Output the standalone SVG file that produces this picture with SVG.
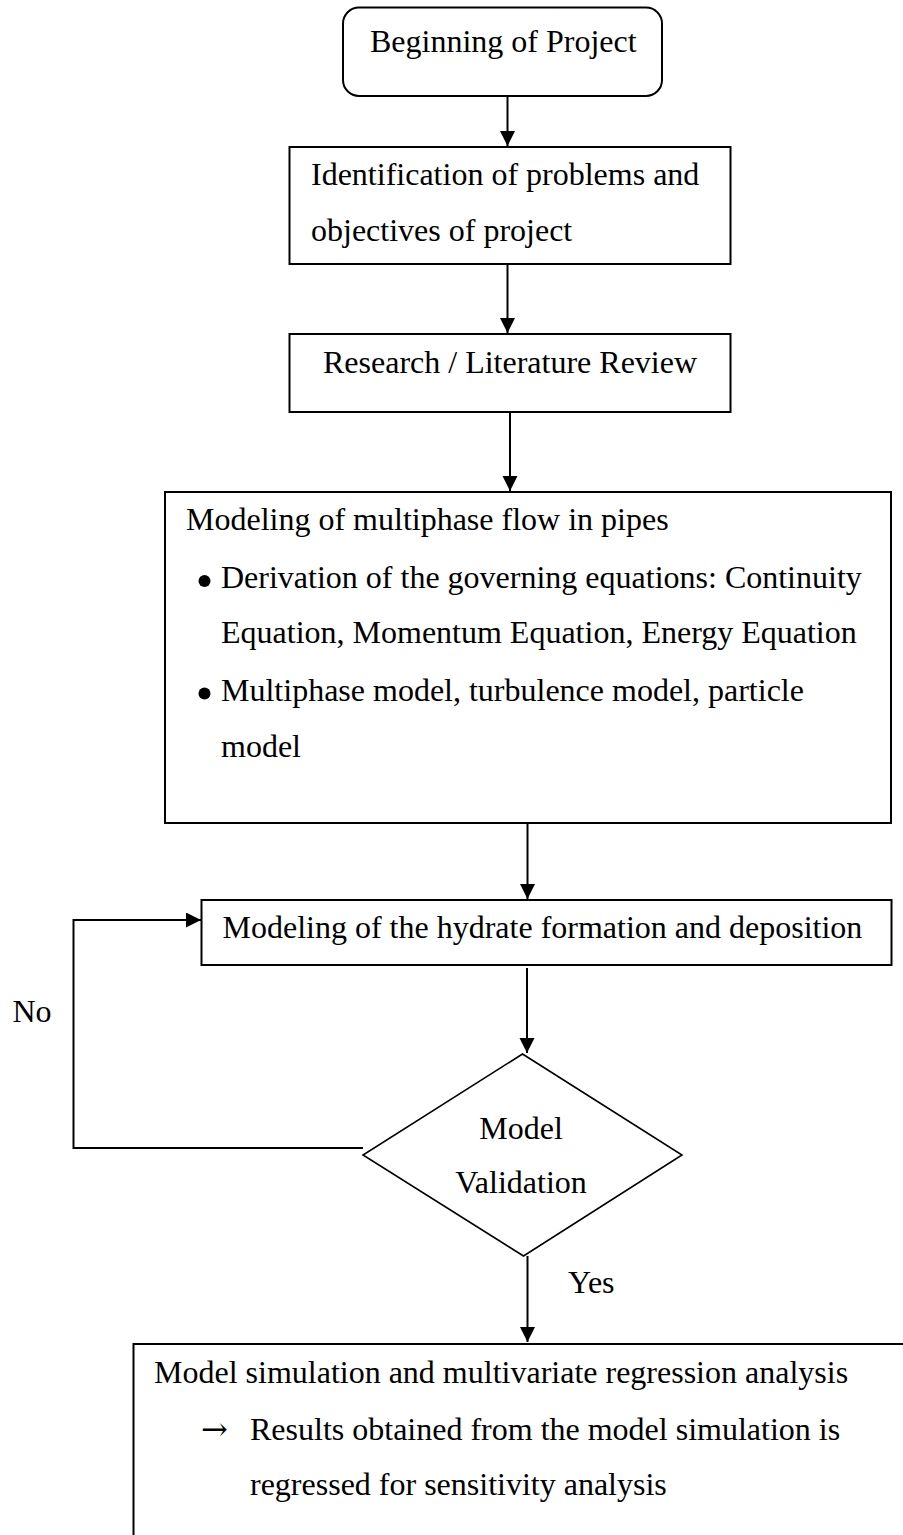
<svg xmlns="http://www.w3.org/2000/svg" width="903" height="1535" viewBox="0 0 903 1535">
<style>
.box{fill:#fff;stroke:#000;stroke-width:2}
.ln{fill:none;stroke:#000;stroke-width:2}
text{font-family:"Liberation Serif","Times New Roman",serif;font-size:32px;fill:#000}
.mid{text-anchor:middle}
</style>
<defs>
<marker id="ah" markerUnits="userSpaceOnUse" markerWidth="16" markerHeight="16" refX="15" refY="7.5" orient="auto">
<path d="M0,0 L15,7.5 L0,15 z" fill="#000"/>
</marker>
</defs>
<rect width="903" height="1535" fill="#fff"/>
<g id="connectors">
<line class="ln" x1="507.5" y1="96" x2="507.5" y2="146" marker-end="url(#ah)"/>
<line class="ln" x1="507.5" y1="264" x2="507.5" y2="333" marker-end="url(#ah)"/>
<line class="ln" x1="510" y1="412" x2="510" y2="491" marker-end="url(#ah)"/>
<line class="ln" x1="527.5" y1="823" x2="527.5" y2="899" marker-end="url(#ah)"/>
<line class="ln" x1="527" y1="968" x2="527" y2="1053" marker-end="url(#ah)"/>
<line class="ln" x1="527.5" y1="1256" x2="527.5" y2="1342" marker-end="url(#ah)"/>
<polyline class="ln" points="363,1148 73.5,1148 73.5,920 201,920" marker-end="url(#ah)"/>
<text x="12.5" y="1021.5">No</text>
<text x="568" y="1293">Yes</text>
</g>
<g id="start">
<rect class="box" x="343" y="7.5" width="319" height="88.5" rx="16"/>
<text x="370" y="52">Beginning of Project</text>
</g>
<g id="identify">
<rect class="box" x="289.5" y="147" width="441" height="117"/>
<text x="311" y="185">Identification of problems and</text>
<text x="311" y="241">objectives of project</text>
</g>
<g id="research">
<rect class="box" x="289.5" y="334" width="441" height="78"/>
<text x="323" y="373">Research / Literature Review</text>
</g>
<g id="multiphase">
<rect class="box" x="165" y="492" width="726" height="331"/>
<text x="186" y="530">Modeling of multiphase flow in pipes</text>
<circle cx="204.5" cy="581" r="6" fill="#000"/>
<text x="221" y="588">Derivation of the governing equations: Continuity</text>
<text x="221" y="643">Equation, Momentum Equation, Energy Equation</text>
<circle cx="204.5" cy="693.5" r="6" fill="#000"/>
<text x="221" y="701">Multiphase model, turbulence model, particle</text>
<text x="221" y="757">model</text>
</g>
<g id="hydrate">
<rect class="box" x="201.5" y="900" width="690" height="65"/>
<text x="222.5" y="938">Modeling of the hydrate formation and deposition</text>
</g>
<g id="validation">
<polygon points="522.5,1054 682,1155 523.5,1256 363,1155" fill="#fff" stroke="#000" stroke-width="1.6"/>
<text class="mid" x="521" y="1139">Model</text>
<text class="mid" x="521" y="1193">Validation</text>
</g>
<g id="simulation">
<path class="ln" d="M133.5,1535 V1344 H903"/>
<text x="154" y="1383">Model simulation and multivariate regression analysis</text>
<text x="201" y="1440" style="font-family:'DejaVu Serif','Liberation Serif',serif;font-size:32px">→</text>
<text x="250" y="1440">Results obtained from the model simulation is</text>
<text x="250" y="1495">regressed for sensitivity analysis</text>
</g>
</svg>
